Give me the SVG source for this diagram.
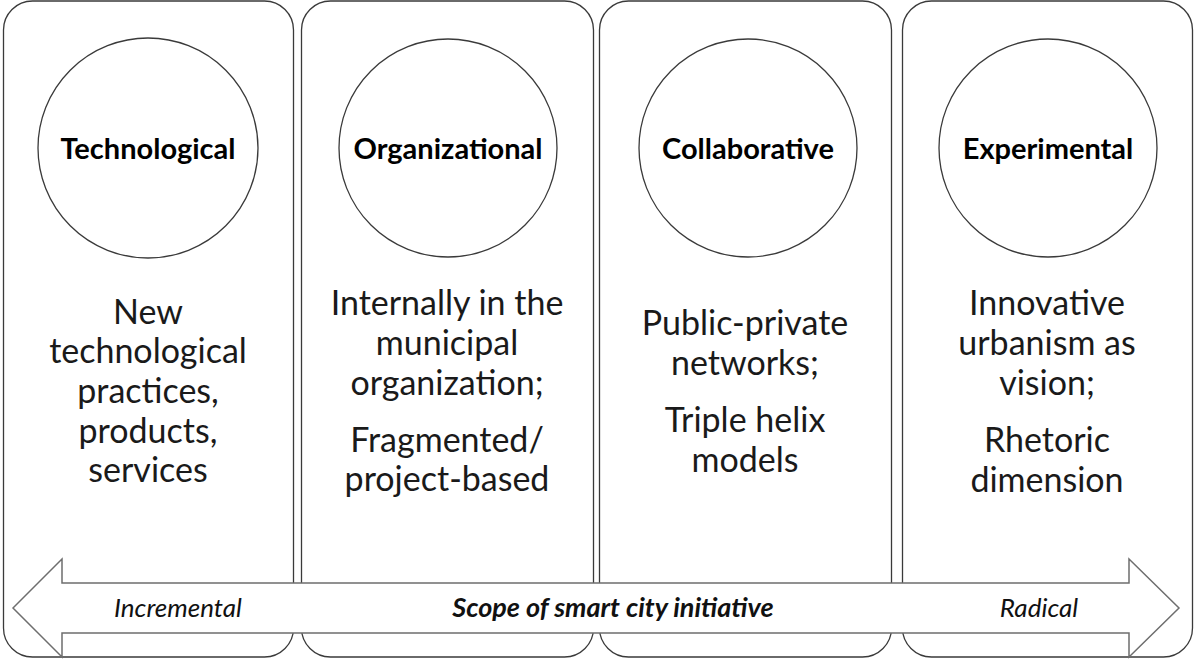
<svg xmlns="http://www.w3.org/2000/svg" width="1195" height="659" viewBox="0 0 1195 659">
  <style>
    .box { fill: #ffffff; stroke: #3a3a3a; stroke-width: 1.3; }
    .circle { fill: #ffffff; stroke: #3a3a3a; stroke-width: 1.3; }
    .title { font-family: Lato, "Liberation Sans", sans-serif; font-weight: bold; font-size: 29px; fill: #000; text-anchor: middle; }
    .body { font-family: Lato, "Liberation Sans", sans-serif; font-size: 34px; fill: #1a1a1a; text-anchor: middle; }
    .arrow { fill: #ffffff; stroke: #6e6e6e; stroke-width: 1.5; stroke-linejoin: miter; }
    .axis { font-family: Lato, "Liberation Sans", sans-serif; font-style: italic; font-size: 26px; fill: #111; text-anchor: middle; }
    .axisb { font-family: Lato, "Liberation Sans", sans-serif; font-style: italic; font-weight: bold; font-size: 27px; fill: #111; text-anchor: middle; }
  </style>
  <rect width="1195" height="659" fill="#ffffff"/>

  <g id="node-technological">
    <rect class="box" x="3.5" y="1" width="290" height="656" rx="29" ry="29"/>
    <circle class="circle" cx="148" cy="148" r="110"/>
    <text class="title" x="148" y="159">Technological</text>
    <text class="body" x="148" y="324">New</text>
    <text class="body" x="148" y="363">technological</text>
    <text class="body" x="148" y="403">practices,</text>
    <text class="body" x="148" y="443">products,</text>
    <text class="body" x="148" y="482">services</text>
  </g>

  <g id="node-organizational">
    <rect class="box" x="301.5" y="1" width="292" height="656" rx="29" ry="29"/>
    <circle class="circle" cx="448" cy="148" r="109"/>
    <text class="title" x="448" y="159">Organizational</text>
    <text class="body" x="447" y="315">Internally in the</text>
    <text class="body" x="447" y="355">municipal</text>
    <text class="body" x="447" y="395">organization;</text>
    <text class="body" x="447" y="452">Fragmented/</text>
    <text class="body" x="447" y="491">project-based</text>
  </g>

  <g id="node-collaborative">
    <rect class="box" x="599.5" y="1" width="292" height="656" rx="29" ry="29"/>
    <circle class="circle" cx="748" cy="148" r="109"/>
    <text class="title" x="748" y="159">Collaborative</text>
    <text class="body" x="745" y="335">Public-private</text>
    <text class="body" x="745" y="375">networks;</text>
    <text class="body" x="745" y="432">Triple helix</text>
    <text class="body" x="745" y="472">models</text>
  </g>

  <g id="node-experimental">
    <rect class="box" x="902.5" y="1" width="290" height="656" rx="29" ry="29"/>
    <circle class="circle" cx="1048" cy="148" r="109"/>
    <text class="title" x="1048" y="159">Experimental</text>
    <text class="body" x="1047" y="315">Innovative</text>
    <text class="body" x="1047" y="355">urbanism as</text>
    <text class="body" x="1047" y="395">vision;</text>
    <text class="body" x="1047" y="452">Rhetoric</text>
    <text class="body" x="1047" y="492">dimension</text>
  </g>

  <g id="connectors">
    <polygon class="arrow" points="13,608 62,559 62,583 1129,583 1129,559 1179,608 1129,657 1129,633 62,633 62,657"/>
    <text class="axis" x="178" y="617">Incremental</text>
    <text class="axisb" x="613" y="617">Scope of smart city initiative</text>
    <text class="axis" x="1039" y="617">Radical</text>
  </g>
</svg>
